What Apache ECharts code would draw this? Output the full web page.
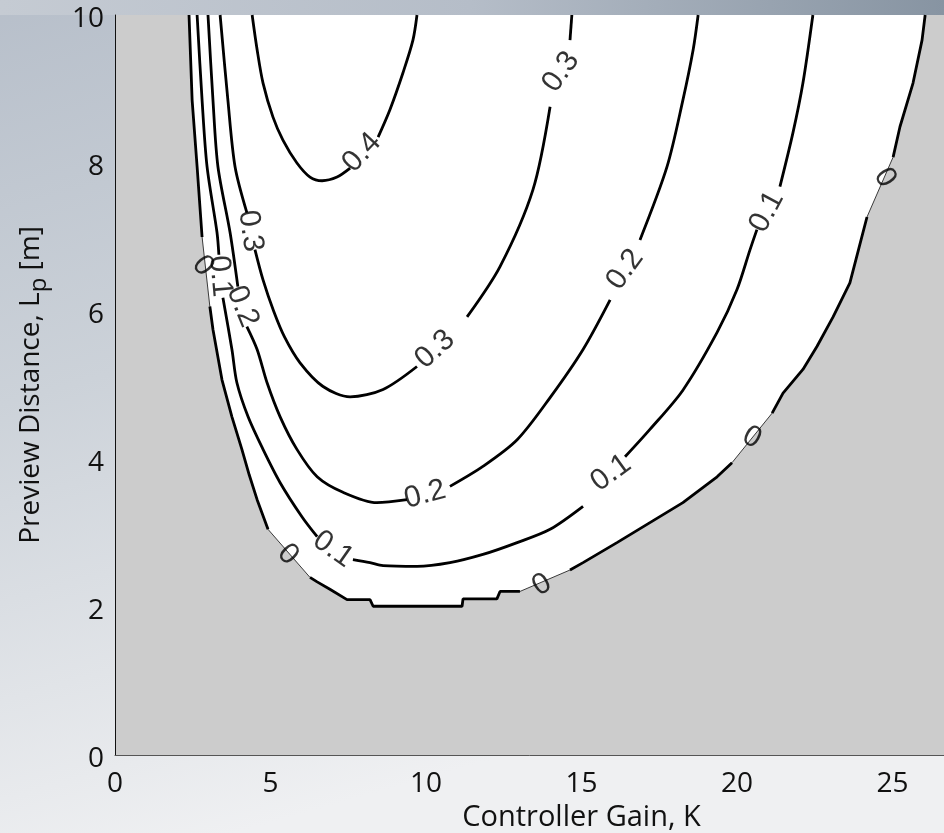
<!DOCTYPE html>
<html>
<head>
<meta charset="utf-8">
<script src="https://cdn.jsdelivr.net/npm/echarts@6/dist/echarts.min.js"></script>
<style>
html,body{margin:0;padding:0;width:944px;height:833px;overflow:hidden;}
#chart{width:944px;height:833px;}
</style>
</head>
<body>
<div id="chart"></div>
<script>
// ---------- texts ----------
const xAxisTitle = 'Controller Gain, K';
const yAxisTitle = 'Preview Distance, L{sub|p} [m]';

// ---------- axis ranges ----------
const xRange = [0, 30];
const yRange = [0, 10];

// ---------- contour lines [K, Lp], split where inline labels sit ----------
const level0 = [
  [[2.38,10.0],[2.48,8.85],[2.64,7.95],[2.80,7.00]],
  [[3.05,6.06],[3.15,5.75],[3.44,5.07],[3.76,4.57],[4.08,4.13],[4.32,3.78],[4.57,3.45],[4.92,3.05]],
  [[6.27,2.40],[6.50,2.34],[6.91,2.24],[7.46,2.10],[8.20,2.10],[8.30,2.01],[11.16,2.01],[11.19,2.11],[12.28,2.11],[12.38,2.21],[13.02,2.21]],
  [[14.63,2.50],[15.05,2.60],[16.14,2.87],[17.20,3.14],[18.26,3.41],[19.36,3.76],[19.84,3.95]],
  [[21.13,4.62],[21.48,4.89],[22.12,5.21],[22.57,5.52],[23.09,5.92],[23.63,6.38],[23.92,6.85],[24.18,7.27]],
  [[25.02,8.08],[25.24,8.49],[25.66,9.08],[25.95,9.66],[26.05,10.0]]
];
const level01 = [
  [[2.64,10.0],[2.80,8.85],[2.96,7.95],[3.28,7.06],[3.34,6.76]],
  [[3.47,6.18],[3.76,5.48],[3.92,5.03],[4.28,4.57],[4.76,4.13],[5.31,3.68],[6.01,3.22],[6.50,2.95]],
  [[7.65,2.64],[8.20,2.60],[8.62,2.56],[9.71,2.55],[10.77,2.60],[11.83,2.71],[12.93,2.87],[13.99,3.05],[15.05,3.36]],
  [[16.40,4.03],[17.20,4.40],[18.26,4.93],[19.36,5.71],[20.00,6.29],[20.42,6.83],[20.64,7.10]],
  [[21.38,7.68],[21.80,8.41],[22.12,9.08],[22.44,10.0]]
];
const level02 = [
  [[2.99,10.0],[3.15,8.85],[3.31,7.95],[3.70,7.06],[3.95,6.33]],
  [[4.24,5.79],[4.57,5.48],[4.89,5.03],[5.31,4.57],[5.85,4.13],[6.50,3.76],[7.33,3.55],[8.42,3.41],[9.39,3.45]],
  [[10.77,3.63],[11.83,3.90],[12.93,4.26],[13.99,4.83],[15.05,5.48],[15.92,6.15]],
  [[16.88,6.96],[17.75,7.95],[18.26,8.85],[18.59,9.53],[18.75,10.0]]
];
const level03 = [
  [[3.38,10.0],[3.63,8.85],[3.86,7.95],[4.24,7.33]],
  [[4.50,6.83],[4.76,6.42],[5.10,6.00],[5.45,5.65],[5.95,5.30],[6.69,4.98],[7.56,4.84],[8.62,4.94],[9.71,5.25]],
  [[11.32,5.92],[12.38,6.60],[13.44,7.64],[13.99,8.76]],
  [[14.63,9.66],[14.69,10.0]]
];
const level04 = [
  [[4.41,10.0],[4.57,9.53],[4.76,9.08],[5.08,8.62],[5.40,8.31],[5.85,8.00],[6.27,7.81],[6.66,7.76],[7.14,7.81],[7.56,7.93]],
  [[8.46,8.35],[8.84,8.72],[9.26,9.22],[9.58,9.66],[9.71,10.0]]
];

// ---------- inline contour labels [K, Lp, text] ----------
const contourLabels = [
  [7.94,8.14,'0.4'],
  [4.35,7.08,'0.3'],[10.29,5.48,'0.3'],[14.34,9.23,'0.3'],
  [4.10,6.06,'0.2'],[9.97,3.52,'0.2'],[16.40,6.56,'0.2'],
  [3.38,6.47,'0.1'],[7.01,2.78,'0.1'],[15.95,3.81,'0.1'],[20.96,7.34,'0.1'],
  [2.83,6.61,'0'],[5.56,2.71,'0'],[13.73,2.30,'0'],[20.48,4.29,'0'],[24.76,7.80,'0']
];
// label rotation (style), same order as contourLabels
const labelRotations = [47, -82, 42, 55, -68, 15, 54, -85, -35, 36, 62, -50, -45, 31, -29, -58];

// ---------- build ----------
const FONT = "'Open Sans', sans-serif";
const LABEL_FONT = "'Liberation Sans', Arial, sans-serif";

const series = [];
// stable (white) region bounded by the 0 contour, filled up to the top of the axis
series.push({
  type: 'line',
  data: level0.flat(),
  symbol: 'none',
  silent: true,
  lineStyle: { color: '#3a3a3a', width: 1 },
  areaStyle: { color: '#ffffff', opacity: 1, origin: 'end' },
  z: 2
});
[level0, level01, level02, level03, level04].forEach((level, li) => {
  level.forEach(seg => {
    series.push({
      type: 'line',
      data: seg,
      symbol: 'none',
      silent: true,
      smooth: li === 0 ? false : 0.3,
      lineStyle: { color: '#000', width: 2.8 },
      z: 3
    });
  });
});
series.push({
  type: 'scatter',
  symbolSize: 0,
  silent: true,
  z: 4,
  data: contourLabels.map((d, i) => ({
    value: [d[0], d[1]],
    name: d[2],
    label: { rotate: labelRotations[i] }
  })),
  label: {
    show: true,
    position: 'inside',
    formatter: p => p.name,
    fontFamily: LABEL_FONT,
    fontSize: 30,
    color: '#000'
  }
});

const chart = echarts.init(document.getElementById('chart'), null, { renderer: 'canvas' });
chart.setOption({
  animation: false,
  backgroundColor: {
    type: 'linear', x: 0, y: 0, x2: 0.25, y2: 1,
    colorStops: [
      { offset: 0, color: '#b7bfca' },
      { offset: 0.45, color: '#ccd2d9' },
      { offset: 1, color: '#eff0f2' }
    ]
  },
  graphic: [{
    type: 'rect',
    left: 0, top: 0,
    shape: { width: 944, height: 15 },
    style: {
      fill: {
        type: 'linear', x: 0, y: 0, x2: 1, y2: 0,
        colorStops: [
          { offset: 0, color: '#c5cbd3' },
          { offset: 0.5, color: '#b5bdc8' },
          { offset: 1, color: '#8794a2' }
        ]
      }
    },
    silent: true,
    z: -1
  }],
  grid: {
    left: 115, top: 15, right: -104, bottom: 78,
    show: true, backgroundColor: '#cccccc', borderWidth: 0,
    containLabel: false, outerBoundsMode: 'none'
  },
  xAxis: {
    type: 'value',
    min: xRange[0], max: xRange[1], interval: 5,
    name: xAxisTitle,
    nameLocation: 'middle',
    nameGap: 45,
    nameTextStyle: { fontFamily: FONT, fontSize: 29, color: '#111' },
    axisLine: { show: true, onZero: false, lineStyle: { color: '#555', width: 1 } },
    axisTick: { show: false },
    splitLine: { show: false },
    axisLabel: { fontFamily: FONT, fontSize: 28, color: '#111', margin: 15 }
  },
  yAxis: {
    type: 'value',
    min: yRange[0], max: yRange[1], interval: 2,
    name: yAxisTitle,
    nameLocation: 'middle',
    nameGap: 64,
    nameTextStyle: {
      fontFamily: FONT, fontSize: 28, color: '#111',
      rich: { sub: { fontFamily: FONT, fontSize: 24, color: '#111', padding: [16, 0, 0, 0] } }
    },
    axisLine: { show: true, onZero: false, lineStyle: { color: '#111', width: 1 } },
    axisTick: { show: false },
    splitLine: { show: false },
    axisLabel: {
      fontFamily: FONT, fontSize: 28, color: '#111', margin: 11,
      formatter: v => '{t|' + v + '}',
      rich: { t: { fontFamily: FONT, fontSize: 28, color: '#111', padding: [9, 0, 0, 0] } }
    }
  },
  series: series
});
</script>
</body>
</html>
